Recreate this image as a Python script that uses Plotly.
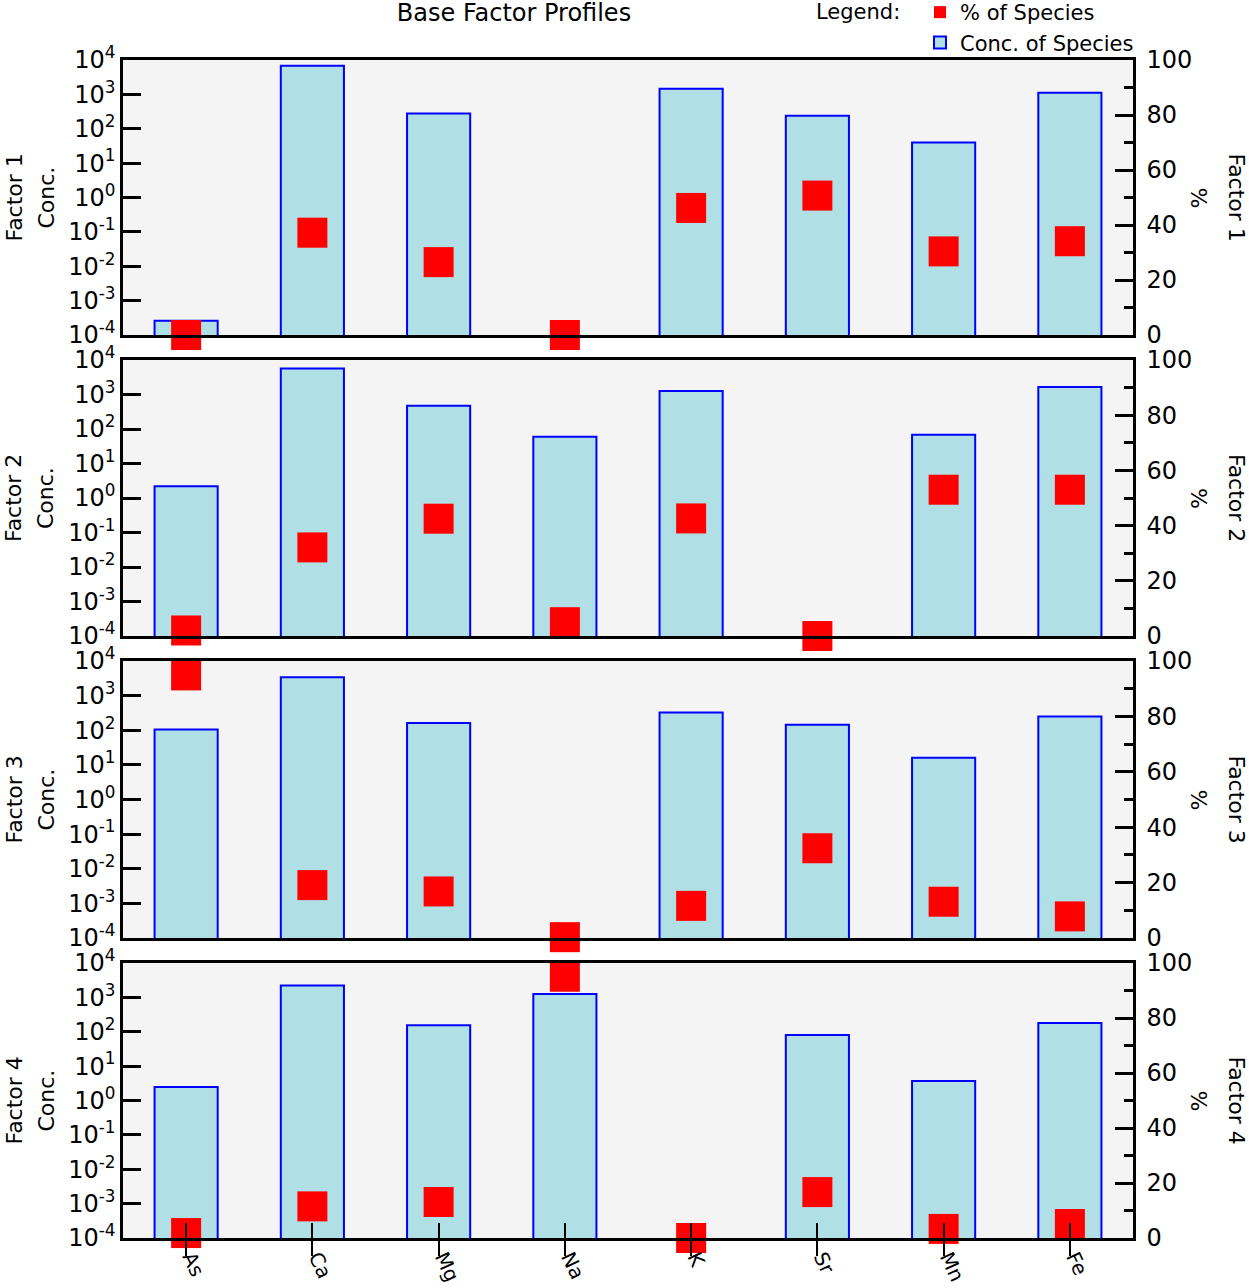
import plotly.graph_objects as go

# species and factor profiles
species = ["As", "Ca", "Mg", "Na", "K", "Sr", "Mn", "Fe"]

conc_f1 = [2.6e-4, 6800, 280, None, 1450, 240, 40, 1120]
pct_f1 = [0, 37.2, 26.5, 0, 46.2, 50.7, 30.4, 34.1]

conc_f2 = [2.2, 5700, 475, 60, 1260, None, 68, 1650]
pct_f2 = [2, 32.1, 42.5, 5, 42.6, 0, 53, 53]

conc_f3 = [105, 3400, 163, None, 325, 143, 16, 250]
pct_f3 = [94.8, 19.1, 16.8, 0.3, 11.6, 32.4, 13.1, 7.8]

conc_f4 = [2.45, 2200, 155, 1260, None, 80, 3.7, 180]
pct_f4 = [1.8, 11.5, 13.1, 95, 0, 16.7, 3.3, 5.1]

factor_names = ["Factor 1", "Factor 2", "Factor 3", "Factor 4"]
conc = [conc_f1, conc_f2, conc_f3, conc_f4]
pct = [pct_f1, pct_f2, pct_f3, pct_f4]

# left axis decades and their labels
exponents = [-4, -3, -2, -1, 0, 1, 2, 3, 4]
log_tickvals = [10.0 ** e for e in exponents]
log_ticktext = [f"10<sup>{e}</sup>" for e in exponents]

FONT = "DejaVu Sans"
W, H = 1249, 1288
ML, MR, MT, MB = 123, 116, 60, 50
plot_h = H - MT - MB
plot_w = W - ML - MR

# panel top/bottom in pixels (from the picture)
panels_px = [(60, 335), (360, 636), (661, 938), (963, 1238)]
domains = [[(H - MB - b) / plot_h, (H - MB - t) / plot_h] for t, b in panels_px]


def px_x(p):
    return (p - ML) / plot_w


def px_y(p):
    return (H - MB - p) / plot_h


fig = go.Figure()

for i in range(4):
    xa = "x" if i == 0 else f"x{i+1}"
    ya = "y" if i == 0 else f"y{i+1}"
    ya2 = f"y{i+5}"
    # bottom panel markers sit on an overlay x axis (inward ticks + labels)
    xm = "x9" if i == 3 else xa
    fig.add_trace(go.Bar(
        x=species, y=conc[i], xaxis=xa, yaxis=ya,
        name="Conc. of Species", showlegend=(i == 0), legendrank=2,
        width=0.5,
        marker=dict(color="#b0e0e6", line=dict(color="#0000ff", width=2)),
    ))
    fig.add_trace(go.Scatter(
        x=species, y=pct[i], xaxis=xm, yaxis=ya2,
        name="% of Species", showlegend=(i == 0), legendrank=1,
        mode="markers", cliponaxis=False,
        marker=dict(symbol="square", size=30, color="#ff0000"),
    ))

layout = dict(
    width=W, height=H,
    margin=dict(l=ML, r=MR, t=MT, b=MB, autoexpand=False),
    paper_bgcolor="white",
    plot_bgcolor="#f4f4f4",
    font=dict(family=FONT, size=22, color="black"),
    title=dict(text="Base Factor Profiles", x=514 / W, xanchor="center",
               y=1 - 13 / H, yanchor="middle", pad=dict(t=0, b=0),
               font=dict(size=24)),
    barmode="overlay",
    legend=dict(
        x=px_x(920), xanchor="left",
        y=px_y(-8), yanchor="top",
        font=dict(size=21), bgcolor="rgba(0,0,0,0)",
        itemsizing="constant", tracegroupgap=0,
    ),
    annotations=[
        dict(text="Legend:", xref="paper", yref="paper",
             x=px_x(858), y=px_y(12), xanchor="center", yanchor="middle",
             showarrow=False, font=dict(size=21)),
    ],
)

for i in range(4):
    k = "" if i == 0 else str(i + 1)
    last = i == 3
    layout[f"xaxis{k}"] = dict(
        domain=[0, 1], anchor=f"y{k}", type="category",
        categoryorder="array", categoryarray=species,
        range=[-0.5, 7.5], showgrid=False,
        showline=True, linecolor="black", linewidth=2.5, mirror=True,
        showticklabels=False, ticks="outside" if last else "",
        ticklen=15, tickwidth=2, tickcolor="black",
    )
    layout[f"yaxis{k}"] = dict(
        domain=domains[i], anchor=f"x{k}", type="log",
        range=[-4, 4], tickmode="array",
        tickvals=log_tickvals, ticktext=log_ticktext,
        showgrid=False, zeroline=False,
        showline=True, linecolor="black", linewidth=2.5, mirror=True,
        ticks="inside", ticklen=18, tickwidth=2.5, tickcolor="black",
        tickfont=dict(size=24),
    )
    layout[f"yaxis{i+5}"] = dict(
        overlaying=f"y{k}", side="right", anchor=f"x{k}",
        range=[0, 100], dtick=20, showgrid=False, zeroline=False,
        showline=True, linecolor="black", linewidth=2.5,
        ticks="inside", ticklen=18, tickwidth=2.5, tickcolor="black",
        minor=dict(dtick=10, ticks="inside", ticklen=9, tickwidth=2.5,
                   tickcolor="black"),
        ticklabelstandoff=6,
        tickfont=dict(size=24),
    )
    yc = sum(domains[i]) / 2
    layout["annotations"] += [
        dict(text=factor_names[i], xref="paper", yref="paper",
             x=px_x(14), y=yc, textangle=-90, showarrow=False,
             xanchor="center", yanchor="middle", font=dict(size=22)),
        dict(text="Conc.", xref="paper", yref="paper",
             x=px_x(46), y=yc, textangle=-90, showarrow=False,
             xanchor="center", yanchor="middle", font=dict(size=22)),
        dict(text="%", xref="paper", yref="paper",
             x=px_x(1198), y=yc, textangle=90, showarrow=False,
             xanchor="center", yanchor="middle", font=dict(size=22)),
        dict(text=factor_names[i], xref="paper", yref="paper",
             x=px_x(1236), y=yc, textangle=90, showarrow=False,
             xanchor="center", yanchor="middle", font=dict(size=22)),
    ]

# overlay x axis on the bottom panel: inward half of the crossing ticks + labels
layout["xaxis9"] = dict(
    overlaying="x4", anchor="y4", side="bottom", type="category",
    categoryorder="array", categoryarray=species, range=[-0.5, 7.5],
    showticklabels=True, tickangle=65, tickfont=dict(size=20),
    ticklabelstandoff=3, ticklabelshift=5,
    showgrid=False, zeroline=False, showline=False,
    ticks="inside", ticklen=15, tickwidth=2, tickcolor="black",
)

fig.update_layout(layout)
# drop the page's default body margin so the figure sits at the window corner
fig.write_html("out.html", config={"displayModeBar": False},
               post_script="document.body.style.margin = '0';")
